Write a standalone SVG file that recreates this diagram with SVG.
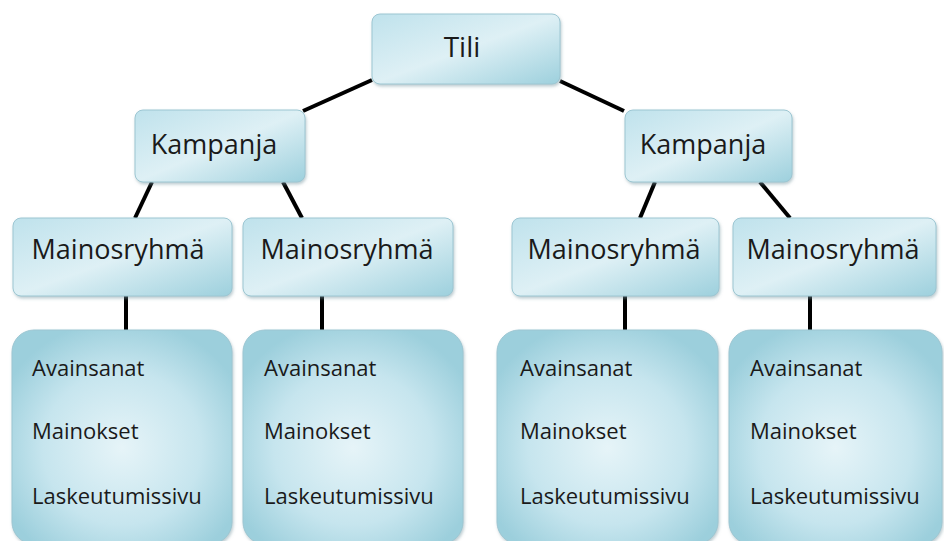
<svg xmlns="http://www.w3.org/2000/svg" width="944" height="541" viewBox="0 0 944 541">
<defs>
<linearGradient id="g" x1="0" y1="0" x2="1" y2="1">
<stop offset="0" stop-color="#bfe2ec"/>
<stop offset="0.5" stop-color="#def0f5"/>
<stop offset="1" stop-color="#9dd0dd"/>
</linearGradient>
<radialGradient id="r" cx="0.5" cy="0.55" r="0.6">
<stop offset="0" stop-color="#e6f4f8"/>
<stop offset="0.6" stop-color="#c6e5ee"/>
<stop offset="1" stop-color="#9ccfdc"/>
</radialGradient>
<filter id="sh" x="-5%" y="-5%" width="110%" height="115%">
<feDropShadow dx="1" dy="2" stdDeviation="1.5" flood-color="#7a9aa3" flood-opacity="0.5"/>
</filter>
<style>
.box{fill:url(#g);stroke:#9cc6d2;stroke-width:1;filter:url(#sh)}
.leaf{fill:url(#r);stroke:#9cc6d2;stroke-width:1;filter:url(#sh)}
.t{font-family:"Open Sans","Noto Sans","Liberation Sans",sans-serif;fill:#1a1a1a}
.h{font-size:27px;text-anchor:middle}
.s{font-size:22px}
.c{stroke:#000;stroke-width:4;fill:none;stroke-linecap:butt}
</style>
</defs>
<rect width="944" height="541" fill="#fff"/>
<g id="connectors">
<line class="c" x1="372" y1="80" x2="303" y2="111"/>
<line class="c" x1="560" y1="81" x2="624" y2="111"/>
<line class="c" x1="152" y1="182" x2="135" y2="218"/>
<line class="c" x1="283" y1="182" x2="302" y2="218"/>
<line class="c" x1="655" y1="182" x2="640" y2="218"/>
<line class="c" x1="760" y1="182" x2="790" y2="218"/>
<line class="c" x1="126" y1="296" x2="126" y2="330"/>
<line class="c" x1="322" y1="296" x2="322" y2="330"/>
<line class="c" x1="625" y1="296" x2="625" y2="330"/>
<line class="c" x1="810" y1="296" x2="810" y2="330"/>
</g>
<g id="tili">
<rect class="box" x="372" y="14" width="188" height="70" rx="8"/>
<text class="t h" x="462" y="57" style="font-size:28px">Tili</text>
</g>
<g id="kampanja1">
<rect class="box" x="135" y="110" width="170" height="72" rx="8"/>
<text class="t h" x="214" y="154">Kampanja</text>
</g>
<g id="kampanja2">
<rect class="box" x="625" y="110" width="167" height="72" rx="8"/>
<text class="t h" x="703" y="154">Kampanja</text>
</g>
<g id="mainosryhma1">
<rect class="box" x="13" y="218" width="219" height="78" rx="8"/>
<text class="t h" x="118" y="259">Mainosryhmä</text>
</g>
<g id="mainosryhma2">
<rect class="box" x="243" y="218" width="210" height="78" rx="8"/>
<text class="t h" x="347" y="259">Mainosryhmä</text>
</g>
<g id="mainosryhma3">
<rect class="box" x="512" y="218" width="207" height="78" rx="8"/>
<text class="t h" x="614" y="259">Mainosryhmä</text>
</g>
<g id="mainosryhma4">
<rect class="box" x="733" y="218" width="203" height="78" rx="8"/>
<text class="t h" x="833" y="259">Mainosryhmä</text>
</g>
<g id="leaf1">
<rect class="leaf" x="12" y="330" width="220" height="214" rx="22"/>
<text class="t s" x="32" y="376">Avainsanat</text>
<text class="t s" x="32" y="439">Mainokset</text>
<text class="t s" x="32" y="504">Laskeutumissivu</text>
</g>
<g id="leaf2">
<rect class="leaf" x="243" y="330" width="220" height="214" rx="22"/>
<text class="t s" x="264" y="376">Avainsanat</text>
<text class="t s" x="264" y="439">Mainokset</text>
<text class="t s" x="264" y="504">Laskeutumissivu</text>
</g>
<g id="leaf3">
<rect class="leaf" x="497" y="330" width="221" height="214" rx="22"/>
<text class="t s" x="520" y="376">Avainsanat</text>
<text class="t s" x="520" y="439">Mainokset</text>
<text class="t s" x="520" y="504">Laskeutumissivu</text>
</g>
<g id="leaf4">
<rect class="leaf" x="729" y="330" width="213" height="214" rx="22"/>
<text class="t s" x="750" y="376">Avainsanat</text>
<text class="t s" x="750" y="439">Mainokset</text>
<text class="t s" x="750" y="504">Laskeutumissivu</text>
</g>
</svg>
